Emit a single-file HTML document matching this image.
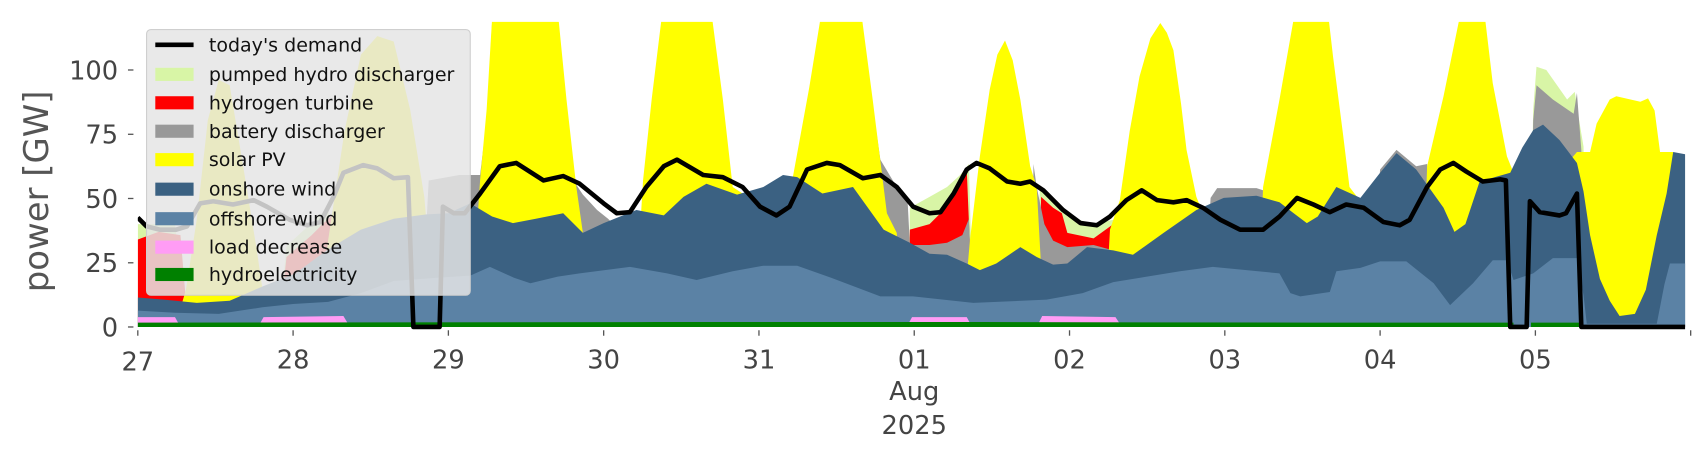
<!DOCTYPE html>
<html><head><meta charset="utf-8"><style>
html,body{margin:0;padding:0;background:#fff;}
svg{display:block;}
text{font-family:"DejaVu Sans","Liberation Sans",sans-serif;}
</style></head><body>
<svg width="1706" height="460" viewBox="0 0 1560 420.64" xmlns="http://www.w3.org/2000/svg">
<defs><clipPath id="c"><rect x="126" y="20" width="1415" height="282"/></clipPath></defs>
<g clip-path="url(#c)">
<polygon fill="#d8f5a6" points="126,205 140,205 160,205 172,299 255,299 262,225 300,190 312,299 831,299 832,190 850,180 866,171 878,160 886,150 890,299 946,299 951,171 976,198 1000,205 1018,201 1022,299 1398,299 1402,100 1405,61 1414,64 1433,91 1440,84 1443,104 1448,134 1452,299 1541,299 1541,299 126,299"/>
<polygon fill="#ff0000" points="126,219 145,212 165,215 172,299 255,299 262,235 285,215 300,200 306,195 312,299 831,299 832,210 850,205 866,189 875,175 884,155 890,299 950,299 952,180 963,190 971,195 976,213 1000,218 1018,205 1022,299 1541,299 126,299"/>
<polygon fill="#999999" points="126,299 385,299 392,165 420,160 439,160 445,110 450,20 456,299 510,299 512,60 521,160 533,178 546,192 556,200 566,210 570,299 788,299 790,40 805,146 820,171 830,185 832,224 850,224 866,222 880,215 886,200 890,299 944,299 945,150 948,171 955,205 963,220 976,226 1000,224 1018,229 1022,299 1100,299 1107,181 1113,172 1149,172 1158,175 1162,299 1250,299 1262,155 1277,137 1295,152 1305,150 1310,299 1398,299 1402,110 1405,78 1420,91 1439,104 1442,85 1446,137 1450,299 1541,299 126,299"/>
<polygon fill="#ffff00" points="126,299 160,299 170,265 180,200 190,110 200,73 210,78 222,150 235,230 245,299 290,299 300,220 315,120 330,50 345,33 360,38 375,100 388,180 398,299 430,299 439,165 445,100 451,0 468,0 509,0 518,91 527,171 533,213 540,299 580,299 588,165 596,90 607,0 649,0 661,91 670,171 679,177 685,299 718,299 725,162 740,80 753,0 786,0 798,91 811,195 820,213 826,299 880,299 887,219 896,143 905,82 912,50 919,37 926,55 933,91 942,152 948,171 955,299 1010,299 1015,210 1024,183 1033,120 1042,70 1052,35 1061,21 1067,30 1073,46 1080,95 1085,137 1094,180 1100,195 1106,299 1150,299 1155,171 1170,91 1186,0 1213,0 1219,52 1228,122 1234,171 1241,180 1248,299 1300,299 1305,152 1320,88 1338,0 1356,0 1365,76 1378,143 1384,158 1390,299 1430,299 1436,146 1442,139 1454,139 1460,113 1472,91 1478,88 1500,93 1507,90 1513,101 1518,139 1530,139 1536,299 1541,299 126,299"/>
<polygon fill="#3b6182" points="126,272 150,274 180,277 210,275 240,262 270,250 300,228 330,210 360,200 390,196 410,195 430,186 450,198 469,204 490,200 515,195 533,213 552,204 582,192 607,197 625,180 646,168 674,178 698,171 716,160 729,162 752,177 780,171 808,210 832,222 850,232 866,233 884,241 896,247 911,241 933,226 948,235 963,242 976,241 994,226 1018,229 1036,233 1064,213 1094,192 1119,181 1149,179 1170,185 1183,195 1195,204 1205,198 1222,171 1244,181 1262,158 1277,140 1295,155 1320,190 1330,212 1340,205 1353,166 1381,158 1392,135 1402,119 1411,114 1426,128 1442,149 1448,175 1454,215 1463,255 1472,275 1481,289 1495,287 1505,265 1515,215 1524,177 1530,139 1541,141 1541,299 126,299"/>
<polygon fill="#5b82a5" points="126,284 160,286 200,287 240,281 268,278 300,276 330,268 360,257 400,254 430,252 448,244 470,254 485,259 510,253 530,250 576,244 610,250 637,256 670,248 698,243 729,243 760,254 789,265 805,271 835,271 890,277 957,274 990,268 1018,258 1079,248 1109,244 1170,250 1180,268 1189,271 1216,267 1222,248 1244,245 1262,239 1286,239 1311,259 1326,279 1347,259 1365,238 1378,238 1384,256 1402,250 1420,236 1442,236 1448,270 1451,296 1515,296 1522,260 1527,241 1541,241 1541,299 126,299"/>
<polygon fill="#ff9cf5" points="126,290 160,290 165,299 126,299"/>
<polygon fill="#ff9cf5" points="236,299 241,290 314,289 320,299"/>
<polygon fill="#ff9cf5" points="829,299 834,290 884,290 889,299"/>
<polygon fill="#ff9cf5" points="948,299 953,289 1020,290 1026,299"/>
<polygon fill="#008000" points="126,295 600,294.5 900,294.5 1200,295 1384,295 1384,299 126,299"/>
<polygon fill="#008000" points="1400,295 1444,295 1444,299 1400,299"/>
<polyline fill="none" stroke="#000" stroke-width="4.2" stroke-linejoin="round" points="126,199 134,207 146,210 161,210 171,207 183,186 195,184 213,187 232,183 244,189 265,201 281,206 293,203 305,180 314,158 332,151 345,154 360,163 373,162 378,299 402,299 405,189 415,195 425,195 439,177 457,152 472,149 497,165 515,161 530,168 552,186 564,195 576,194 591,171 607,152 619,146 643,160 661,162 679,171 695,189 710,197 722,189 738,155 756,149 768,151 789,163 805,160 820,171 835,189 850,195 860,194 872,177 884,155 893,149 905,154 921,166 933,168 942,166 954,174 972,192 988,204 1003,206 1015,198 1030,183 1044,174 1058,183 1073,185 1085,183 1100,190 1116,201 1134,210 1155,210 1170,198 1186,181 1201,187 1216,194 1231,187 1247,190 1265,203 1280,206 1289,201 1305,171 1317,155 1329,149 1341,157 1356,166 1372,164 1377,165 1381,299 1396,299 1399,184 1408,194 1426,197 1432,195 1442,177 1446,299 1541,299"/>
</g>
<g stroke="#555" stroke-width="1.2">
<line x1="117" y1="299" x2="122" y2="299"/><line x1="117" y1="240.3" x2="122" y2="240.3"/><line x1="117" y1="181.5" x2="122" y2="181.5"/><line x1="117" y1="122.8" x2="122" y2="122.8"/><line x1="117" y1="64" x2="122" y2="64"/>
<line x1="126" y1="302" x2="126" y2="307"/><line x1="268" y1="302" x2="268" y2="307"/><line x1="410" y1="302" x2="410" y2="307"/><line x1="552" y1="302" x2="552" y2="307"/><line x1="694" y1="302" x2="694" y2="307"/><line x1="836" y1="302" x2="836" y2="307"/><line x1="978" y1="302" x2="978" y2="307"/><line x1="1120" y1="302" x2="1120" y2="307"/><line x1="1262" y1="302" x2="1262" y2="307"/><line x1="1404" y1="302" x2="1404" y2="307"/><line x1="1546" y1="302" x2="1546" y2="307"/>
</g>
<g fill="#444" font-size="23.5" text-anchor="end">
<text x="108" y="307.5">0</text><text x="108" y="248.5">25</text><text x="108" y="190">50</text><text x="108" y="131">75</text><text x="108" y="72.5">100</text>
</g>
<g fill="#444" font-size="23.5" text-anchor="middle">
<text x="126" y="339">27</text><text x="268" y="337">28</text><text x="410" y="337">29</text><text x="552" y="337">30</text><text x="694" y="337">31</text><text x="836" y="337">01</text><text x="978" y="337">02</text><text x="1120" y="337">03</text><text x="1262" y="337">04</text><text x="1404" y="337">05</text>
<text x="836" y="366">Aug</text><text x="836" y="397">2025</text>
</g>
<text transform="translate(44,175) rotate(-90)" fill="#555" font-size="31" text-anchor="middle">power [GW]</text>
<rect x="134" y="27" width="296" height="243" rx="4" fill="#e5e5e5" fill-opacity="0.85" stroke="#cfcfcf" stroke-width="1"/>
<g font-size="17.4" fill="#111">
<line x1="142" y1="41" x2="177" y2="41" stroke="#000" stroke-width="4.2"/><text x="191" y="47">today's demand</text>
<rect x="142" y="62" width="35" height="12" fill="#d8f5a6"/><text x="191" y="74">pumped hydro discharger</text>
<rect x="142" y="88" width="35" height="12" fill="#ff0000"/><text x="191" y="100">hydrogen turbine</text>
<rect x="142" y="114" width="35" height="12" fill="#999"/><text x="191" y="126">battery discharger</text>
<rect x="142" y="140" width="35" height="12" fill="#ffff00"/><text x="191" y="152">solar PV</text>
<rect x="142" y="167" width="35" height="12" fill="#3b6182"/><text x="191" y="179">onshore wind</text>
<rect x="142" y="194" width="35" height="12" fill="#5b82a5"/><text x="191" y="206">offshore wind</text>
<rect x="142" y="220" width="35" height="12" fill="#ff9cf5"/><text x="191" y="232">load decrease</text>
<rect x="142" y="245" width="35" height="12" fill="#008000"/><text x="191" y="257">hydroelectricity</text>
</g>
</svg>
</body></html>
